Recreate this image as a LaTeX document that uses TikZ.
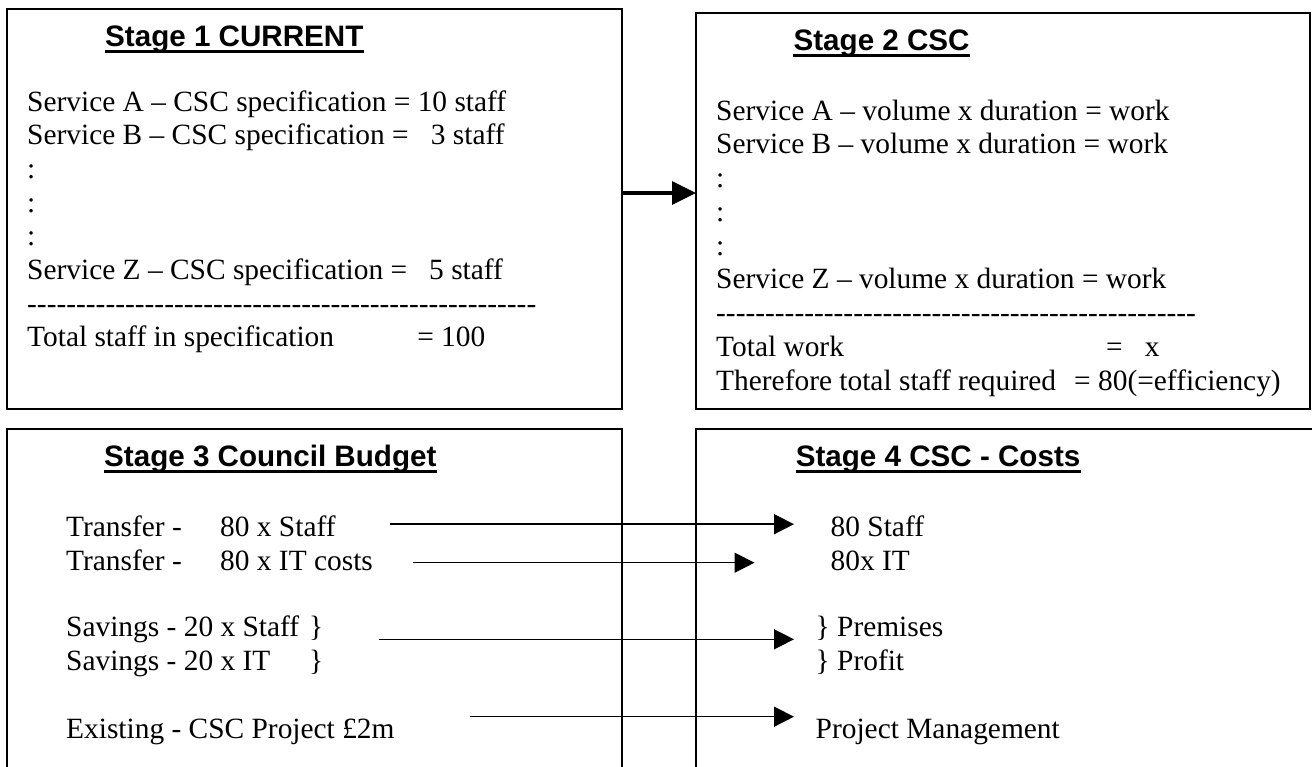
\documentclass[tikz,border=0pt]{standalone}
\usepackage{fontspec}
\setmainfont{Liberation Serif}[Ligatures=TeXOff]
\newfontfamily\headfont{Liberation Sans}
\usetikzlibrary{arrows.meta}

\tikzset{
    stagebox/.style={draw, rectangle, line width=2pt, inner sep=0pt, outer sep=0pt},
    stagetitle/.style={anchor=base west, inner sep=0pt, font=\headfont\bfseries\fontsize{29.6pt}{34pt}\selectfont},
    entry/.style={anchor=base west, inner sep=0pt, font=\fontsize{29.4pt}{33.7pt}\selectfont},
    titleline/.style={line width=3pt},
    mainarrow/.style={-{Triangle[length=24pt,width=23pt]}, line width=3.3pt},
    costarrow/.style={-{Triangle[length=20pt,width=20pt]}, line width=1.5pt}
}
\newcommand\dashrow[1]{\foreach \d in {1,...,#1}{-}}

\begin{document}
\begin{tikzpicture}[x=1pt, y=-1pt]
    \useasboundingbox (0,0) rectangle (1312,766);
    \clip (0,0) rectangle (1312,766);

    % Stage boxes
    \node[stagebox, minimum width=615pt, minimum height=400pt] (box1) at (314.2,209) {};
    \node[stagebox, minimum width=614pt, minimum height=396.3pt] (box2) at (1003,210.85) {};
    \node[stagebox, minimum width=615pt, minimum height=371pt] (box3) at (314.2,614.5) {};
    \node[stagebox, minimum width=654pt, minimum height=371pt] (box4) at (1023,614.5) {};

    % Titles
    \node[stagetitle] (t1) at (105,46.7) {Stage 1 CURRENT};
    \node[stagetitle] (t2) at (793.4,50) {Stage 2 CSC};
    \node[stagetitle] (t3) at (104,466) {Stage 3 Council Budget};
    \node[stagetitle] (t4) at (795.6,466) {Stage 4 CSC - Costs};
    \foreach \t in {t1,t2,t3,t4}
        \draw[titleline] ([yshift=-5pt]\t.base west) -- ([yshift=-5pt]\t.base east);

    % Stage 1 lines
    \foreach \txt [count=\i from 0] in {
        Service A – CSC specification = 10 staff,
        Service B – CSC specification = \phantom{1}3 staff,
        :, :, :,
        Service Z – CSC specification = \phantom{1}5 staff,
        {\dashrow{52}},
        {\makebox[390pt][l]{Total staff in specification}= 100}}
        \node[entry] (s1-\i) at (27, 111+33.7*\i) {\txt};

    % Stage 2 lines
    \foreach \txt [count=\i from 0] in {
        Service A – volume x duration = work,
        Service B – volume x duration = work,
        :, :, :,
        Service Z – volume x duration = work,
        {\dashrow{49}},
        {\makebox[390pt][l]{Total work}=\hspace{22pt}x},
        {\makebox[358pt][l]{Therefore total staff required}= 80(=efficiency)}}
        \node[entry] (s2-\i) at (716, 120+33.75*\i) {\txt};

    % Stage 1 to stage 2
    \draw[mainarrow] ([yshift=16pt]box1.east) -- ([yshift=16pt]box1.east -| box2.west);

    % Stage 3 budget
    \node[entry] (b1) at (66,536.7) {\makebox[154pt][l]{Transfer -}80 x Staff};
    \node[entry] (b2) at (66,570.7) {\makebox[154pt][l]{Transfer -}80 x IT costs};
    \node[entry] (b3) at (66,636.7) {\makebox[243pt][l]{Savings - 20 x Staff}\}};
    \node[entry] (b4) at (66,670.5) {\makebox[243pt][l]{Savings - 20 x IT}\}};
    \node[entry] (b5) at (66,738.3) {Existing - CSC Project £2m};

    % Stage 4 costs
    \node[entry] (c1) at (830.5,536.7) {80 Staff};
    \node[entry] (c2) at (830.5,570.7) {80x IT};
    \node[entry] (c3) at (815.5,636.7) {\} Premises};
    \node[entry] (c4) at (815.5,670.5) {\} Profit};
    \node[entry] (c5) at (815.5,738.3) {Project Management};

    % Budget to costs
    \draw[costarrow] ([shift={(54,-12.5)}]b1.base east) -- ([shift={(-36.5,-12.5)}]c1.base west);
    \draw[costarrow] ([shift={(40,-8)}]b2.base east) -- ([shift={(-76,-8)}]c2.base west);
    \draw[costarrow] ([shift={(55.6,2.6)}]b3.base east) -- ([shift={(-21.5,2.6)}]c3.base west);
    \draw[costarrow] ([shift={(75.6,-21.6)}]b5.base east) -- ([shift={(-21.5,-21.6)}]c5.base west);
\end{tikzpicture}
\end{document}
